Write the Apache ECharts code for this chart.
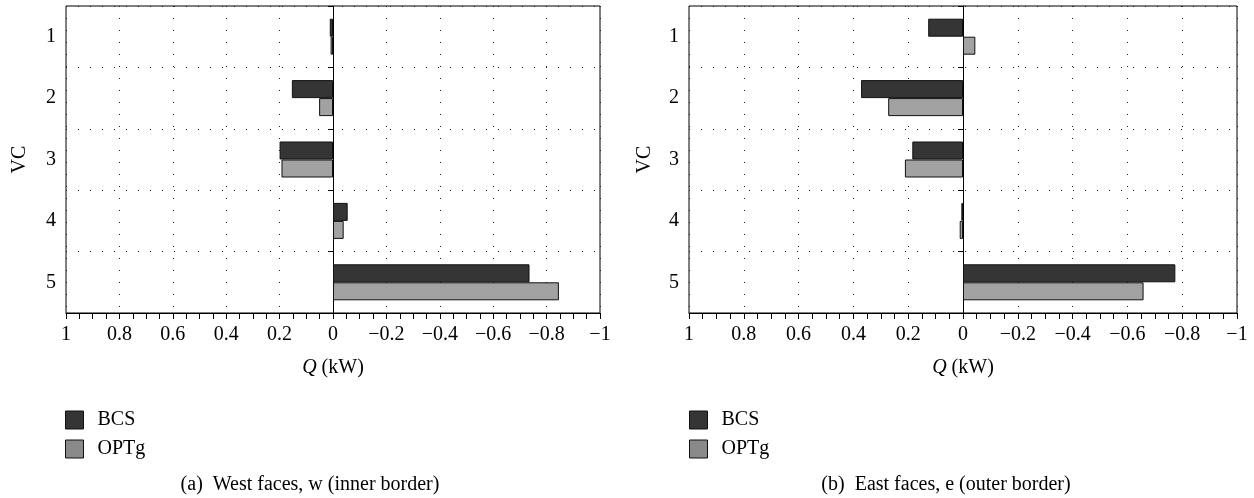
<!DOCTYPE html>
<html>
<head>
<meta charset="utf-8">
<script src="https://cdn.jsdelivr.net/npm/echarts@6/dist/echarts.min.js"></script>
<style>
  html, body { margin: 0; padding: 0; background: #fff; }
  #chart { width: 1254px; height: 498px; }
</style>
</head>
<body>
<div id="chart"></div>
<script>
// values, Q in kW (positive to the left)
var categories = ['1', '2', '3', '4', '5'];
var seriesNames = ['BCS', 'OPTg'];
var westBCS = [0.012, 0.154, 0.200, -0.055, -0.736];
var westOPTg = [0.009, 0.052, 0.193, -0.040, -0.846];
var eastBCS = [0.127, 0.372, 0.185, 0.006, -0.775];
var eastOPTg = [-0.045, 0.273, 0.212, 0.012, -0.659];
var captions = ['(a)  West faces, w (inner border)', '(b)  East faces, e (outer border)'];

var FONT = '"Liberation Serif", "DejaVu Serif", serif';
var colBCS = '#353535';
var colOPTg = '#a2a2a2';
var DOTS = [1, 11];

// panel boxes: left, width
var panels = [
    {left: 66, width: 534, vcGap: 36},
    {left: 689, width: 548, vcGap: 34}
];

function tickLabel(v) {
    var r = Math.round(v * 10) / 10;
    if (r === 0) return '0';
    var s = String(Math.abs(r));
    return r < 0 ? '\u2212' + s : s;
}

function makeGrid(p) {
    return {left: p.left, width: p.width, top: 6, height: 307, show: true,
            borderColor: '#000', borderWidth: 1, backgroundColor: 'transparent'};
}

function makeXAxis(idx) {
    return {
        gridIndex: idx,
        type: 'value',
        min: -1,
        max: 1,
        interval: 0.2,
        inverse: true,
        name: '{i|Q} (kW)',
        nameLocation: 'middle',
        nameGap: 45,
        nameTextStyle: {
            fontFamily: FONT, fontSize: 20, color: '#000',
            rich: {i: {fontFamily: FONT, fontSize: 20, fontStyle: 'italic', color: '#000'}}
        },
        axisLine: {show: true, onZero: false, lineStyle: {color: '#000', width: 1}},
        axisTick: {show: true, length: 6, lineStyle: {color: '#000'}},
        minorTick: {show: true, splitNumber: 4, length: 6, lineStyle: {color: '#000'}},
        axisLabel: {fontFamily: FONT, fontSize: 20, color: '#000', margin: 12, formatter: tickLabel},
        splitLine: {show: true, lineStyle: {color: '#222', width: 1, type: DOTS}}
    };
}

function makeYAxes(idx) {
    var p = panels[idx];
    return [{
        gridIndex: idx,
        type: 'category',
        data: categories,
        inverse: true,
        name: 'VC',
        nameLocation: 'middle',
        nameRotate: 90,
        nameGap: p.vcGap,
        nameTextStyle: {fontFamily: FONT, fontSize: 20, color: '#000'},
        axisLine: {show: false, onZero: false},
        axisTick: {show: false},
        axisLabel: {fontFamily: FONT, fontSize: 20, color: '#000', margin: 10},
        splitLine: {show: true, lineStyle: {color: '#222', width: 1, type: DOTS}}
    }, {
        // solid zero line with its little ticks, pushed in to Q = 0
        gridIndex: idx,
        type: 'category',
        data: categories,
        inverse: true,
        position: 'left',
        offset: -p.width / 2,
        axisLine: {show: true, onZero: false, lineStyle: {color: '#000', width: 1}},
        axisTick: {show: true, length: 5, lineStyle: {color: '#000'}},
        axisLabel: {show: false},
        splitLine: {show: false}
    }];
}

function makeBar(name, data, idx, color) {
    return {
        name: name,
        type: 'bar',
        xAxisIndex: idx,
        yAxisIndex: idx * 2,
        data: data,
        barWidth: 18,
        barGap: '0%',
        itemStyle: {color: color, borderColor: '#111', borderWidth: 1},
        emphasis: {disabled: true}
    };
}

function makeLegend(left) {
    return {
        orient: 'vertical',
        left: left,
        top: 410,
        padding: 0,
        itemWidth: 18,
        itemHeight: 18,
        itemGap: 9,
        icon: 'rect',
        selectedMode: false,
        textStyle: {fontFamily: FONT, fontSize: 20, color: '#000', padding: [0, 0, 0, 9]},
        data: [
            {name: seriesNames[0], itemStyle: {color: colBCS, borderColor: '#111', borderWidth: 1}},
            {name: seriesNames[1], itemStyle: {color: '#8a8a8a', borderColor: '#111', borderWidth: 1}}
        ]
    };
}

var chart = echarts.init(document.getElementById('chart'), null, {renderer: 'canvas'});
chart.setOption({
    animation: false,
    backgroundColor: '#fff',
    grid: [makeGrid(panels[0]), makeGrid(panels[1])],
    xAxis: [makeXAxis(0), makeXAxis(1)],
    yAxis: makeYAxes(0).concat(makeYAxes(1)),
    legend: [makeLegend(65), makeLegend(689)],
    series: [
        makeBar(seriesNames[0], westBCS, 0, colBCS),
        makeBar(seriesNames[1], westOPTg, 0, colOPTg),
        makeBar(seriesNames[0], eastBCS, 1, colBCS),
        makeBar(seriesNames[1], eastOPTg, 1, colOPTg)
    ],
    graphic: [
        {type: 'text', x: 310, y: 485, style: {text: captions[0], font: '20px ' + FONT, fill: '#000',
            textAlign: 'center', textVerticalAlign: 'middle'}},
        {type: 'text', x: 946, y: 485, style: {text: captions[1], font: '20px ' + FONT, fill: '#000',
            textAlign: 'center', textVerticalAlign: 'middle'}}
    ]
});
</script>
</body>
</html>
